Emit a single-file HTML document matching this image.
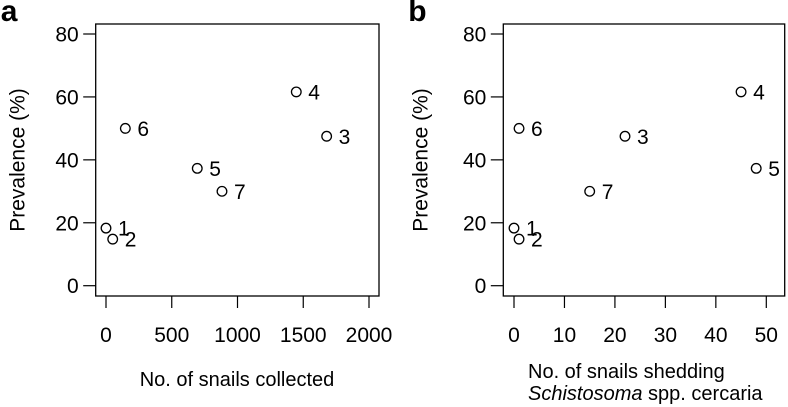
<!DOCTYPE html>
<html><head><meta charset="utf-8"><style>
html,body{margin:0;padding:0;background:#fff}
svg{display:block;font-family:"Liberation Sans",Arial,sans-serif}
</style></head><body>
<svg id="chart" width="788" height="407" viewBox="0 0 788 407"></svg>
<script>
const labels=["1","2","3","4","5","6","7"];
const prevalence=[18.3,14.8,47.5,61.6,37.3,50,30];
const snailsCollected=[0,51,1678,1447,694,147,882];
const snailsShedding=[0,1,22,45,48,1,15];
const yTicks=[0,20,40,60,80];
const xTicksA=[0,500,1000,1500,2000];
const xTicksB=[0,10,20,30,40,50];
const NS="http://www.w3.org/2000/svg";
const svg=document.getElementById('chart');
function mk(t,a,p){const e=document.createElementNS(NS,t);for(const k in a)e.setAttribute(k,a[k]);(p||svg).appendChild(e);return e;}
function panel(cfg){
  const g=mk('g',{});
  
  
  const y=v=>285.7-(v/80)*(285.7-34);
  const x=v=>cfg.x0+(v-cfg.dmin)/(cfg.dmax-cfg.dmin)*(cfg.x1-cfg.x0);
  const box=mk('rect',{x:cfg.bl,y:24,width:cfg.br-cfg.bl,height:272,fill:'none',stroke:'#000','stroke-width':1.3},g);
  
  yTicks.forEach(v=>{
    mk('line',{x1:cfg.bl-12.5,x2:cfg.bl,y1:y(v),y2:y(v),stroke:'#000','stroke-width':1.2},g);
    const t=mk('text',{x:cfg.bl-17,y:y(v)+7.5,'text-anchor':'end','font-size':21},g);t.textContent=v;
    
  });
  cfg.xt.forEach(v=>{
    mk('line',{x1:x(v),x2:x(v),y1:296,y2:308,stroke:'#000','stroke-width':1.2},g);
    const t=mk('text',{x:x(v),y:342,'text-anchor':'middle','font-size':21},g);t.textContent=v;
    
  });
  cfg.xs.forEach((v,i)=>{
    const c=mk('circle',{cx:x(v),cy:y(prevalence[i]),r:4.8,fill:'none',stroke:'#000','stroke-width':1.3},g);
    
    const t=mk('text',{x:x(v)+12,y:y(prevalence[i])+7.5,'font-size':21},g);t.textContent=labels[i];
    
  });
  const yt=mk('text',{x:0,y:0,transform:`translate(${cfg.bl-cfg.yto},160) rotate(-90)`,'text-anchor':'middle','font-size':21},g);
  yt.textContent='Prevalence (%)';
  const pl=mk('text',{x:cfg.bl-cfg.lo,y:21,'font-size':30,'font-weight':'bold'},g);pl.textContent=cfg.letter;
  
  return {g,x};
}
panel({name:'panel-a',letter:'a',bl:95.7,br:379,x0:106,x1:369,dmin:0,dmax:2000,xt:xTicksA,xs:snailsCollected,yto:71,lo:95});
panel({name:'panel-b',letter:'b',bl:503.3,br:784.7,x0:514,x1:766.3,dmin:0,dmax:50,xt:xTicksB,xs:snailsShedding,yto:76,lo:95});
let t=mk('text',{x:237,y:386,'text-anchor':'middle','font-size':20});t.textContent='No. of snails collected';

t=mk('text',{x:528,y:378,'font-size':20});t.textContent='No.  of snails shedding';t.setAttribute('xml:space','preserve');

t=mk('text',{x:528,y:400,'font-size':20});t.innerHTML='<tspan font-style="italic">Schistosoma</tspan> spp. cercaria';

</script>
</body></html>
